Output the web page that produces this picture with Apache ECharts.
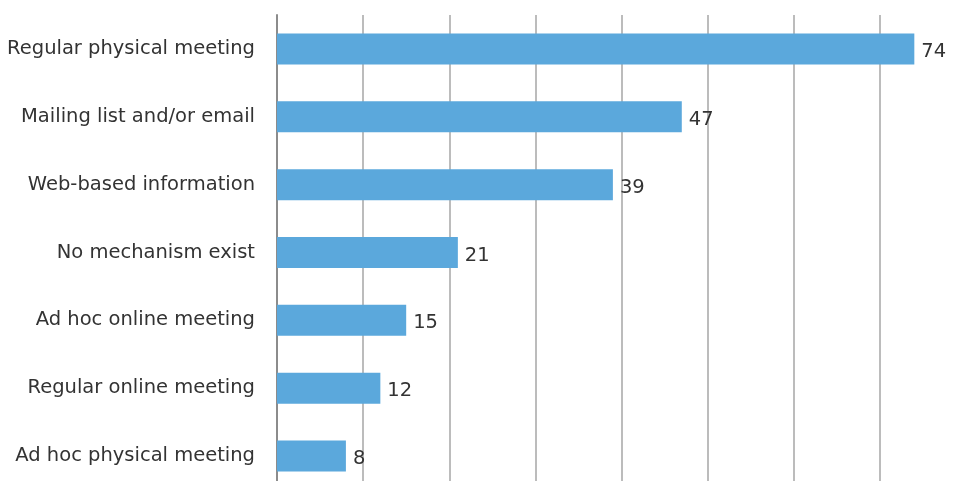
<!DOCTYPE html>
<html lang="en">
<head>
    <meta charset="utf-8">
    <script src="https://cdn.jsdelivr.net/npm/echarts@6/dist/echarts.min.js"></script>
    <title>Mechanisms</title>
    <style>
        html, body { margin: 0; padding: 0; background: #fff; overflow: hidden; }
    </style>
</head>
<body>
<!-- chart is a bit bigger than the window: the 80 line and the bottom edge fall outside -->
<div id="main" style="width: 966px;height:490px;"></div>
<script>
    // top to bottom as drawn
    var categories = ['Regular physical meeting', 'Mailing list and/or email', 'Web-based information',
        'No mechanism exist', 'Ad hoc online meeting', 'Regular online meeting', 'Ad hoc physical meeting'];
    var values = [74, 47, 39, 21, 15, 12, 8];

    var myChart = echarts.init(document.getElementById('main'));

    var option = {
        animation: false,
        backgroundColor: '#fff',
        grid: {
            top: 15,
            bottom: 0,
            left: 277,
            right: 0
        },
        xAxis: {
            type: 'value',
            min: 0,
            max: 80,
            interval: 10,
            axisLabel: {show: false},
            axisTick: {show: false},
            axisLine: {show: false},
            splitLine: {
                show: true,
                lineStyle: {color: '#a6a6a6', width: 1.5}
            }
        },
        yAxis: {
            type: 'category',
            inverse: true,
            data: categories,
            axisTick: {show: false},
            axisLine: {
                show: true,
                lineStyle: {color: '#8c8c8c', width: 2}
            },
            axisLabel: {
                margin: 22,
                color: '#333',
                fontSize: 19.5,
                fontFamily: 'DejaVu Sans'
            }
        },
        series: [{
            type: 'bar',
            data: values,
            barWidth: 31,
            itemStyle: {color: '#5ba8dc'},
            label: {
                show: true,
                position: 'right',
                distance: 7,
                offset: [0, 3],
                color: '#333',
                fontSize: 19.5,
                fontFamily: 'DejaVu Sans'
            }
        }]
    };
    myChart.setOption(option);
</script>
</body>
</html>
